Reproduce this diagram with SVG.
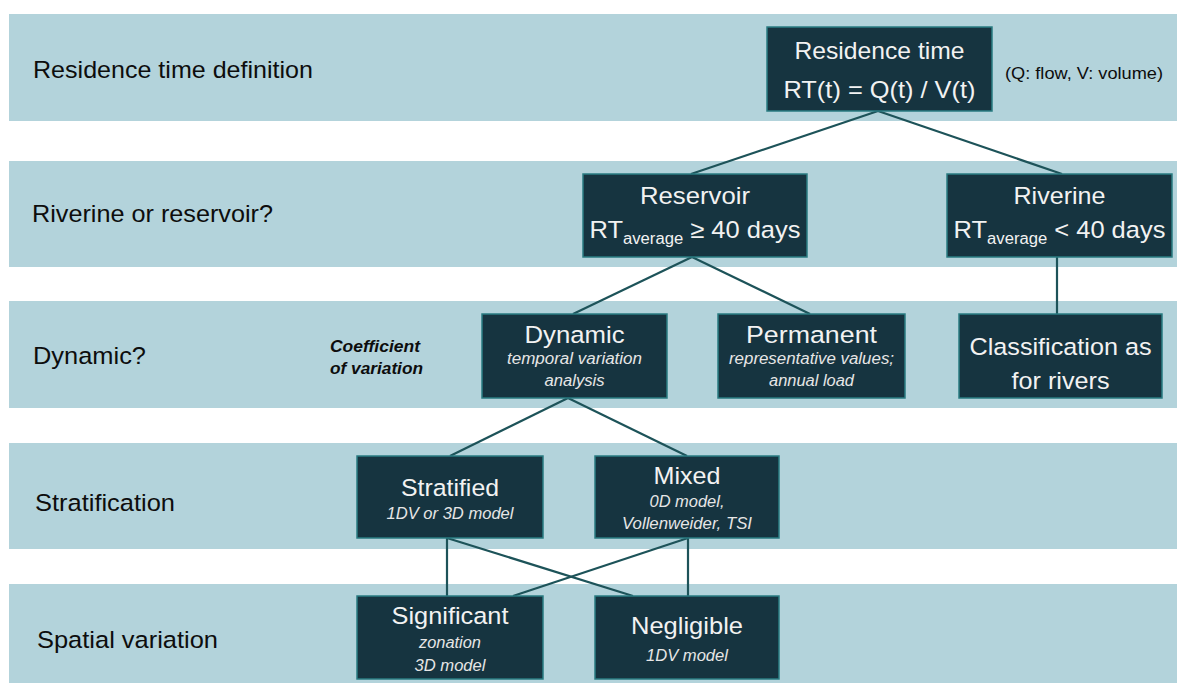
<svg xmlns="http://www.w3.org/2000/svg" width="1177" height="683" viewBox="0 0 1177 683">
<style>
.band{fill:#b3d3db}
.box{fill:#163440;stroke:#2a7c82;stroke-width:1.5}
.lbl{font-family:"Liberation Sans",Arial,sans-serif;font-size:24.5px;fill:#0d0d0d}
.t{font-family:"Liberation Sans",Arial,sans-serif;font-size:24.5px;fill:#f2f2f2;text-anchor:middle}
.s{font-family:"Liberation Sans",Arial,sans-serif;font-size:16px;font-style:italic;fill:#e6e6e6;text-anchor:middle}
.sub{font-size:16px}
.note{font-family:"Liberation Sans",Arial,sans-serif;font-size:17px;fill:#0d0d0d}
.coef{font-family:"Liberation Sans",Arial,sans-serif;font-size:17px;font-weight:bold;font-style:italic;fill:#0d0d0d}
.con{stroke:#1d5359;stroke-width:2.2;fill:none}
</style>
<rect width="1177" height="683" fill="#ffffff"/>
<g id="bands">
<rect class="band" x="9" y="14" width="1168" height="107"/>
<rect class="band" x="9" y="161" width="1168" height="106"/>
<rect class="band" x="9" y="301" width="1168" height="107"/>
<rect class="band" x="9" y="443" width="1168" height="106"/>
<rect class="band" x="9" y="584" width="1168" height="99"/>
</g>
<g id="row-labels">
<text class="lbl" x="33" y="78" textLength="280" lengthAdjust="spacingAndGlyphs">Residence time definition</text>
<text class="lbl" x="32" y="222" textLength="241" lengthAdjust="spacingAndGlyphs">Riverine or reservoir?</text>
<text class="lbl" x="33" y="364" textLength="113" lengthAdjust="spacingAndGlyphs">Dynamic?</text>
<text class="lbl" x="35" y="511" textLength="140" lengthAdjust="spacingAndGlyphs">Stratification</text>
<text class="lbl" x="37" y="648" textLength="181" lengthAdjust="spacingAndGlyphs">Spatial variation</text>
<text class="note" x="1005" y="79" textLength="158" lengthAdjust="spacingAndGlyphs">(Q: flow, V: volume)</text>
<text class="coef" x="330" y="352" textLength="90" lengthAdjust="spacingAndGlyphs">Coefficient</text>
<text class="coef" x="330" y="374" textLength="93" lengthAdjust="spacingAndGlyphs">of variation</text>
</g>
<g id="connectors">
<line class="con" x1="878" y1="111" x2="691" y2="174"/>
<line class="con" x1="878" y1="111" x2="1062" y2="174"/>
<line class="con" x1="692" y1="257" x2="573" y2="314"/>
<line class="con" x1="692" y1="257" x2="810" y2="314"/>
<line class="con" x1="1057" y1="257" x2="1057" y2="314"/>
<line class="con" x1="568" y1="398" x2="450" y2="456"/>
<line class="con" x1="568" y1="398" x2="687" y2="456"/>
<line class="con" x1="447" y1="538" x2="447" y2="596"/>
<line class="con" x1="688" y1="538" x2="688" y2="596"/>
<line class="con" x1="447" y1="538" x2="633" y2="596"/>
<line class="con" x1="688" y1="538" x2="513" y2="596"/>
</g>
<g id="node-residence">
<rect class="box" x="767" y="27" width="225" height="84"/>
<text class="t" x="879.5" y="59" textLength="170" lengthAdjust="spacingAndGlyphs">Residence time</text>
<text class="t" x="879.5" y="98" textLength="192" lengthAdjust="spacingAndGlyphs">RT(t) = Q(t) / V(t)</text>
</g>
<g id="node-reservoir">
<rect class="box" x="583" y="174" width="224" height="83"/>
<text class="t" x="695" y="204" textLength="110" lengthAdjust="spacingAndGlyphs">Reservoir</text>
<text class="t" transform="translate(695,238) scale(1.04,1)" x="0" y="0">RT<tspan class="sub" dy="6">average</tspan><tspan dy="-6"> ≥ 40 days</tspan></text>
</g>
<g id="node-riverine">
<rect class="box" x="947" y="174" width="225" height="83"/>
<text class="t" x="1059.5" y="204" textLength="92" lengthAdjust="spacingAndGlyphs">Riverine</text>
<text class="t" transform="translate(1059.5,238) scale(1.04,1)" x="0" y="0">RT<tspan class="sub" dy="6">average</tspan><tspan dy="-6"> &lt; 40 days</tspan></text>
</g>
<g id="node-dynamic">
<rect class="box" x="482" y="314" width="185" height="84"/>
<text class="t" x="574.5" y="343" textLength="100" lengthAdjust="spacingAndGlyphs">Dynamic</text>
<text class="s" x="574.5" y="364" textLength="135" lengthAdjust="spacingAndGlyphs">temporal variation</text>
<text class="s" x="574.5" y="386" textLength="60" lengthAdjust="spacingAndGlyphs">analysis</text>
</g>
<g id="node-permanent">
<rect class="box" x="718" y="314" width="187" height="84"/>
<text class="t" x="811.5" y="343" textLength="131" lengthAdjust="spacingAndGlyphs">Permanent</text>
<text class="s" x="811.5" y="364" textLength="165" lengthAdjust="spacingAndGlyphs">representative values;</text>
<text class="s" x="811.5" y="386" textLength="85" lengthAdjust="spacingAndGlyphs">annual load</text>
</g>
<g id="node-classification">
<rect class="box" x="959" y="314" width="203" height="84"/>
<text class="t" x="1060.5" y="355" textLength="182" lengthAdjust="spacingAndGlyphs">Classification as</text>
<text class="t" x="1060.5" y="389" textLength="98" lengthAdjust="spacingAndGlyphs">for rivers</text>
</g>
<g id="node-stratified">
<rect class="box" x="357" y="456" width="186" height="82"/>
<text class="t" x="450" y="496" textLength="98" lengthAdjust="spacingAndGlyphs">Stratified</text>
<text class="s" x="450" y="519" textLength="127" lengthAdjust="spacingAndGlyphs">1DV or 3D model</text>
</g>
<g id="node-mixed">
<rect class="box" x="595" y="456" width="184" height="82"/>
<text class="t" x="687" y="484" textLength="67" lengthAdjust="spacingAndGlyphs">Mixed</text>
<text class="s" x="687" y="507" textLength="75" lengthAdjust="spacingAndGlyphs">0D model,</text>
<text class="s" x="687" y="529" textLength="130" lengthAdjust="spacingAndGlyphs">Vollenweider, TSI</text>
</g>
<g id="node-significant">
<rect class="box" x="357" y="596" width="186" height="83"/>
<text class="t" x="450" y="624" textLength="117" lengthAdjust="spacingAndGlyphs">Significant</text>
<text class="s" x="450" y="648" textLength="62" lengthAdjust="spacingAndGlyphs">zonation</text>
<text class="s" x="450" y="671" textLength="71" lengthAdjust="spacingAndGlyphs">3D model</text>
</g>
<g id="node-negligible">
<rect class="box" x="595" y="596" width="184" height="83"/>
<text class="t" x="687" y="634" textLength="112" lengthAdjust="spacingAndGlyphs">Negligible</text>
<text class="s" x="687" y="661" textLength="82" lengthAdjust="spacingAndGlyphs">1DV model</text>
</g>
</svg>
